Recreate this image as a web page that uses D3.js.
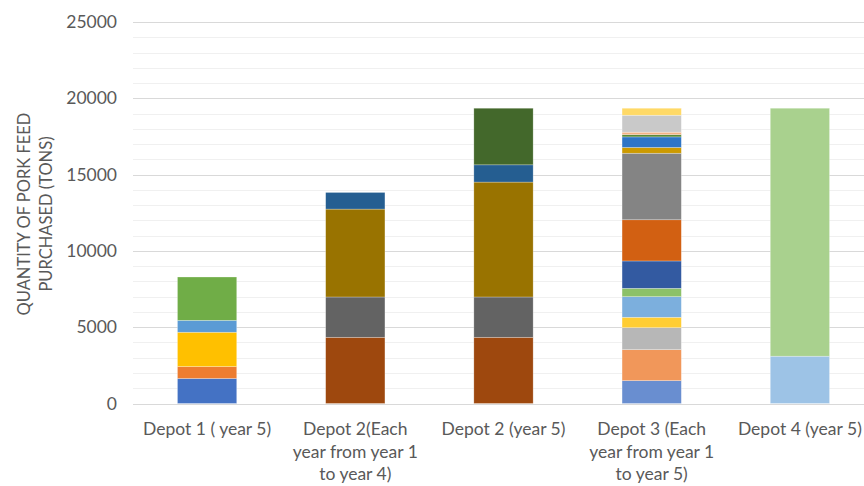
<!DOCTYPE html>
<html>
<head>
<meta charset="utf-8">
<script src="https://cdn.jsdelivr.net/npm/d3@7"></script>
<style>
  html, body { margin: 0; padding: 0; background: #fff; }
  svg { display: block; font-family: Lato, "Open Sans", sans-serif; }
</style>
</head>
<body>
<svg id="chart" width="864" height="486"></svg>
<script>
// Depot categories (x axis), each drawn as one stacked bar
const categories = [
  "Depot 1 ( year 5)",
  "Depot 2(Each year from year 1 to year 4)",
  "Depot 2 (year 5)",
  "Depot 3 (Each year from year 1 to year 5)",
  "Depot 4 (year 5)"
];
// Wrapped label lines for each category
const categoryLines = [
  ["Depot 1 ( year 5)"],
  ["Depot 2(Each", "year from year 1", "to year 4)"],
  ["Depot 2 (year 5)"],
  ["Depot 3 (Each", "year from year 1", "to year 5)"],
  ["Depot 4 (year 5)"]
];

// Purchased quantities (tons), bottom segment first
const depot1Values = [1640, 780, 2250, 780, 2840];
const depot2EachValues = [4340, 2640, 5760, 1090];
const depot2Year5Values = [4340, 2640, 7530, 1130, 3710];
const depot3EachValues = [1500, 2030, 1440, 680, 1350, 550, 1790, 2700, 4360, 380, 690, 150, 160, 1110, 460];
const depot4Values = [3100, 16250];

// Segment fills, bottom segment first
const depot1Colors = ["#4472C4", "#ED7D31", "#FFC000", "#5B9BD5", "#70AD47"];
const depot2EachColors = ["#9E480E", "#636363", "#997300", "#255E91"];
const depot2Year5Colors = ["#9E480E", "#636363", "#997300", "#255E91", "#43682B"];
const depot3EachColors = ["#698ED0", "#F1975A", "#B7B7B7", "#FFCD33", "#7CAFDD", "#8CC168",
  "#335AA1", "#D26012", "#848484", "#CC9A00", "#2E75C6", "#5A8A39", "#F4B183", "#C9C9C9", "#FFD966"];
const depot4Colors = ["#9DC3E6", "#A9D18E"];

const yTicks = [0, 5000, 10000, 15000, 20000, 25000];
const yTitleLines = ["QUANTITY OF PORK FEED", "PURCHASED (TONS)"];

const valueSets = [depot1Values, depot2EachValues, depot2Year5Values, depot3EachValues, depot4Values];
const colorSets = [depot1Colors, depot2EachColors, depot2Year5Colors, depot3EachColors, depot4Colors];

const svg = d3.select("#chart");
const plot = { left: 133, right: 874, top: 22, bottom: 403.5 };

const x = d3.scaleBand().domain(categories).range([plot.left, plot.right]).paddingInner(0.6).paddingOuter(0.3);
const y = d3.scaleLinear().domain([0, 25000]).range([plot.bottom, plot.top]);

// Minor gridlines every 1000, major every 5000
const minor = d3.range(1000, 25001, 1000).filter(v => v % 5000 !== 0);
svg.append("g").selectAll("line").data(minor).join("line")
  .attr("x1", plot.left).attr("x2", plot.right)
  .attr("y1", d => Math.round(y(d)) + 0.5).attr("y2", d => Math.round(y(d)) + 0.5)
  .attr("stroke", "#F0F0F0").attr("stroke-width", 1);
svg.append("g").selectAll("line").data(yTicks).join("line")
  .attr("x1", plot.left).attr("x2", plot.right)
  .attr("y1", d => Math.round(y(d)) + 0.5).attr("y2", d => Math.round(y(d)) + 0.5)
  .attr("stroke", "#D9D9D9").attr("stroke-width", 1);

// Y axis labels
const yAxis = d3.axisLeft(y).tickValues(yTicks).tickSize(0).tickPadding(0).tickFormat(d3.format("d"));
const gy = svg.append("g").attr("transform", `translate(117,0)`).call(yAxis);
gy.select(".domain").remove();
gy.selectAll("text").attr("fill", "#595959").attr("font-size", 17.5).attr("font-family", "Lato, sans-serif");

// Stacked bars
categories.forEach((cat, i) => {
  const vals = valueSets[i];
  const tops = d3.cumsum(vals);
  const segs = vals.map((v, j) => ({ y0: tops[j] - v, y1: tops[j], color: colorSets[i][j] }));
  svg.append("g").selectAll("rect").data(segs).join("rect")
    .attr("x", x(cat))
    .attr("width", x.bandwidth())
    .attr("y", d => y(d.y1))
    .attr("height", d => y(d.y0) - y(d.y1))
    .attr("fill", d => d.color)
    .attr("stroke", "rgba(255,255,255,0.45)")
    .attr("stroke-width", 0.6);
});

// X axis labels
categories.forEach((cat, i) => {
  const cx = x(cat) + x.bandwidth() / 2;
  const t = svg.append("text")
    .attr("text-anchor", "middle")
    .attr("fill", "#595959")
    .attr("font-size", 17.5);
  categoryLines[i].forEach((line, k) => {
    t.append("tspan").attr("x", cx).attr("y", 435 + k * 22.5).text(line);
  });
});

// Y axis title
const title = svg.append("text")
  .attr("transform", "translate(0,214) rotate(-90)")
  .attr("text-anchor", "middle")
  .attr("fill", "#595959")
  .attr("font-size", 16.5);
yTitleLines.forEach((line, k) => {
  title.append("tspan").attr("x", 0).attr("y", 30 + k * 21.5).text(line);
});
</script>
</body>
</html>
